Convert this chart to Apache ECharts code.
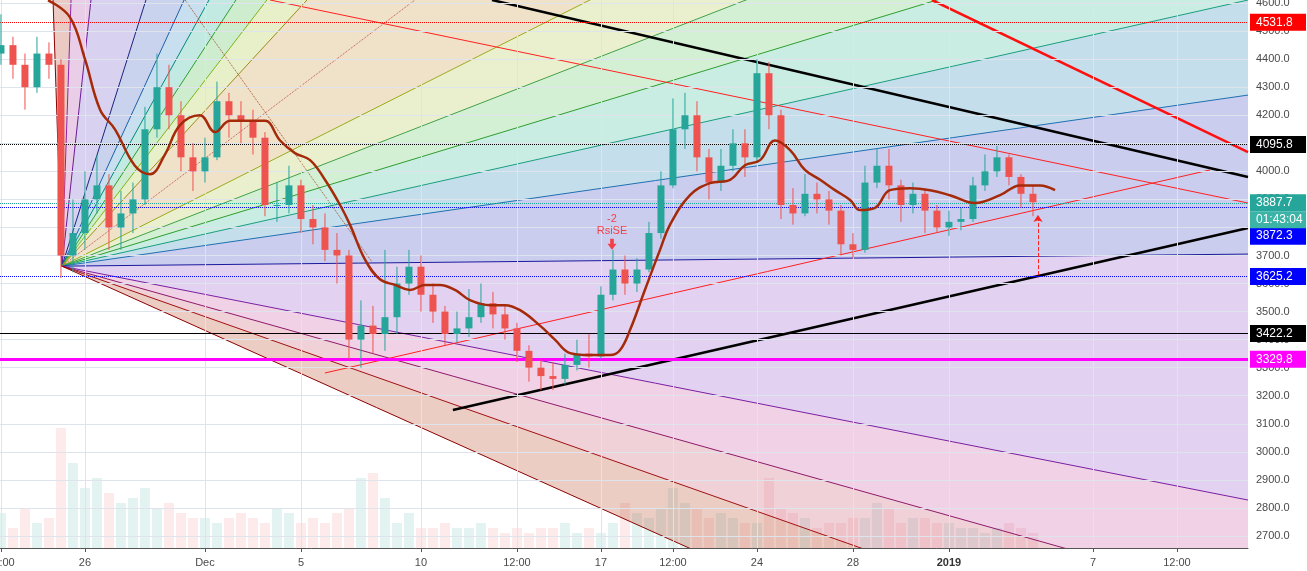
<!DOCTYPE html>
<html>
<head>
<meta charset="utf-8">
<script src="https://cdn.jsdelivr.net/npm/echarts@6/dist/echarts.min.js"></script>
<style>
  html, body { margin: 0; padding: 0; background: #fff; }
  #chart { width: 1307px; height: 571px; }
</style>
</head>
<body>
<div id="chart"></div>
<script>
// x axis in days from Nov 26 00:00, 12h candles
var candleStart = -3.5;
var closes = [4450,4380,4300,4420,4380,3700,3780,3900,3950,3800,3850,3900,4150,4300,4200,4050,4000,4050,4250,4200,
  4180,4120,3880,3880,3950,3830,3800,3720,3700,3400,3450,3420,3480,3600,3660,3560,3500,3420,3440,3480,
  3530,3490,3440,3360,3300,3270,3260,3310,3350,3340,3560,3650,3600,3650,3780,3950,4150,4200,4050,3960,
  4020,4100,4050,4350,4200,3880,3850,3920,3900,3860,3740,3720,3960,4020,3950,3880,3920,3860,3800,3820,
  3830,3950,4000,4050,3980,3920,3890];
var highs = [4560,4480,4420,4480,4460,4400,3900,4000,4060,3990,3930,3960,4230,4420,4380,4250,4100,4120,4320,4280,
  4250,4220,4140,3960,4020,3970,3880,3850,3780,3720,3540,3520,3720,3660,3720,3700,3600,3520,3500,3580,
  3600,3570,3520,3460,3380,3330,3320,3350,3400,3420,3590,3720,3700,3690,3820,4000,4260,4280,4250,4080,
  4080,4150,4150,4400,4390,4220,3940,3990,3960,3930,3880,3780,4020,4080,4080,3970,3960,3940,3880,3860,
  3870,3980,4060,4090,4060,3990,3950];
var lows = [4380,4330,4220,4280,4330,3620,3640,3720,3850,3720,3720,3780,3880,4120,4150,4000,3930,3960,4040,4120,
  4100,4060,3840,3820,3850,3780,3740,3680,3600,3330,3300,3350,3360,3420,3560,3500,3460,3380,3390,3410,
  3460,3440,3400,3320,3250,3220,3220,3240,3290,3300,3330,3540,3560,3570,3640,3760,3940,4080,4000,3900,
  3930,4000,3980,4030,4150,3830,3810,3840,3850,3810,3700,3690,3710,3940,3900,3820,3850,3780,3780,3770,
  3790,3820,3930,3980,3950,3870,3840];
var volumes = [35,20,40,25,30,120,85,60,70,55,45,50,60,40,45,35,30,30,25,30,
  35,30,25,40,35,25,30,25,35,40,70,75,50,25,35,20,20,25,20,20,
  25,20,15,20,15,20,20,25,15,20,15,25,45,35,30,40,60,45,40,30,
  35,30,25,25,70,40,35,30,20,25,25,30,30,45,40,25,30,30,25,25,
  20,20,15,20,25,20,15];

var maDays = [-1.54,-0.63,0,0.63,1.25,2.08,2.71,3.33,3.96,4.79,5.42,6.04,6.88,7.5,8.13,8.75,9.38,10,10.63,11.04,
  11.67,12.29,12.92,13.54,14.17,14.79,15.42,16.04,16.88,17.5,18.13,18.96,19.58,20.21,21.04,21.88,22.29,22.71,23.33,23.96,
  24.38,25.21,26.04,26.88,27.5,28.13,28.75,29.38,30,30.63,31.25,31.88,32.29,32.92,33.54,34.38,35.21,36.04,37.08,38.13,
  38.96,39.79,40.42];
var maValues = [4610,4550,4400,4220,4150,4020,3990,4060,4165,4200,4140,4180,4180,4180,4110,4065,4040,3970,3880,3810,
  3685,3615,3595,3577,3595,3595,3577,3541,3523,3523,3505,3450,3400,3352,3345,3345,3362,3434,3577,3720,
  3810,3915,3958,3970,4022,4040,4110,4076,4005,3970,3933,3898,3862,3870,3933,3940,3933,3915,3887,3915,
  3950,3950,3933];

var xTickDays = [-3.5,0,5,9,14,18,21.5,24.5,28,32,36,42,45.5];
var xTickLabels = ['12:00','26','Dec','5','10','12:00','17','12:00','24','28','2019','7','12:00'];
var priceTicks = [2700,2800,2900,3000,3100,3200,3300,3400,3500,3600,3700,3800,3900,4000,4100,4200,4300,4400,4500,4600];

// gann fan: origin and one point on each ray
var fanOrigin = [-0.96, 3662];
var fanPoints = [[-1.33,4611],[-0.58,4611],[0.25,4611],[2.54,4611],[4.13,4611],[5.17,4611],[6.29,4611],[7.58,4611],
  [9.25,4611],[21.04,4611],[27.54,4611],[35.5,4611],[48.46,4611],[48.46,4272],[48.46,3705],[48.46,2828],
  [40.79,2657],[32.33,2657],[25.17,2657]];
var fanLineColors = ['#8b0000','#8e24aa','#6a1b9a','#1a237e','#1e5fa8','#00897b','#2e9e2e','#7cb518','#a08a1a',
  '#9aab1a','#43a047','#2e9e2e','#1a9e7e','#1f6fb2','#1a1a9e','#7b1fa2','#8e1a6a','#a01010','#8b0000'];
var fanFillColors = ['rgba(190,80,60,0.3)','rgba(170,60,160,0.25)','rgba(120,90,200,0.28)','rgba(80,110,200,0.3)',
  'rgba(70,150,200,0.3)','rgba(40,180,150,0.28)','rgba(80,190,80,0.28)','rgba(170,200,60,0.28)','rgba(200,150,60,0.28)',
  'rgba(180,200,80,0.28)','rgba(100,200,100,0.28)','rgba(60,190,150,0.28)','rgba(60,150,190,0.3)','rgba(90,100,200,0.32)',
  'rgba(150,90,200,0.28)','rgba(200,90,160,0.28)','rgba(200,90,110,0.28)','rgba(190,90,60,0.3)'];

// trend lines [[day, price], [day, price]]
var blackTop = [[16.96,4611],[48.46,3980]];
var blackBottom = [[15.33,3149],[48.46,3798]];
var redThick = [[35.29,4611],[48.46,4069]];
var redDown = [[7.71,4611],[48.46,3887]];
var redUp = [[10,3281],[46.88,4005]];
var dottedUp = [[-0.96,3662],[13.75,4611]];
var dottedDown = [[4.17,4611],[11.96,3677]];
var arrowFrom = [39.71,3630];
var arrowTo = [39.71,3844];
var signalPoint = [21.96,3740];

var priceLines = [
  {value: 4531.8, color: '#ff0000', type: 'dotted', width: 1, label: '4531.8', dy: 0},
  {value: 4095.8, color: '#000000', type: 'dotted', width: 1, label: '4095.8', dy: 0},
  {value: 3887.7, color: '#26a69a', type: 'dotted', width: 1, label: '3887.7', dy: 0},
  {value: 3872.3, color: '#0000ff', type: 'dotted', width: 1, label: '3872.3', dy: 29},
  {value: 3625.2, color: '#0000ff', type: 'dotted', width: 1, label: '3625.2', dy: 0},
  {value: 3422.2, color: '#000000', type: 'solid', width: 1, label: '3422.2', dy: 0},
  {value: 3329.8, color: '#ff00ff', type: 'solid', width: 3, label: '3329.8', dy: 0}
];

var UP = '#26a69a', DOWN = '#ef5350';

var candles = [], vols = [];
for (var i = 0; i < closes.length; i++) {
  var d = candleStart + i * 0.5;
  var o = i === 0 ? 4420 : closes[i - 1];
  candles.push([d, o, closes[i], lows[i], highs[i]]);
  vols.push({value: [d, volumes[i]], itemStyle: {color: closes[i] >= o ? 'rgba(38,166,154,0.13)' : 'rgba(239,83,80,0.12)'}});
}
var maData = maDays.map(function (d, i) { return [d, maValues[i]]; });

var chart = echarts.init(document.getElementById('chart'));

function fanRay(api, p) {
  var o = api.coord(fanOrigin), q = api.coord(p);
  return [o[0] + (q[0] - o[0]) * 20, o[1] + (q[1] - o[1]) * 20];
}

function trend(name, pts, color, width, type) {
  return {
    name: name, type: 'line', data: pts, symbol: 'none', z: 4, silent: true,
    lineStyle: {color: color, width: width, type: type || 'solid'}
  };
}

var gridMarks = xTickDays.map(function (d) { return {xAxis: d}; })
  .concat(priceTicks.map(function (p) { return {yAxis: p}; }));

var option = {
  animation: false,
  backgroundColor: '#ffffff',
  grid: [
    {left: 0, right: 59, top: 0, bottom: 23, containLabel: false, outerBoundsMode: 'none'},
    {left: 0, right: 59, top: 400, bottom: 23, containLabel: false, outerBoundsMode: 'none'}
  ],
  xAxis: [{
    type: 'value', min: -3.54, max: 48.46, gridIndex: 0,
    splitLine: {show: false},
    axisLine: {lineStyle: {color: '#555'}},
    axisTick: {customValues: xTickDays, lineStyle: {color: '#555'}, length: 4},
    axisLabel: {
      customValues: xTickDays, color: '#4a4a4a', fontSize: 11, margin: 9,
      fontFamily: 'Arial, Liberation Sans, sans-serif',
      formatter: function (v) {
        var k = xTickDays.indexOf(v);
        return k >= 0 ? (xTickLabels[k] === '2019' ? '{b|2019}' : xTickLabels[k]) : '';
      },
      rich: {b: {fontWeight: 'bold', fontSize: 11, color: '#333'}}
    }
  }, {
    type: 'value', min: -3.54, max: 48.46, gridIndex: 1, show: false
  }],
  yAxis: [{
    type: 'value', min: 2657, max: 4611, position: 'right', gridIndex: 0,
    splitLine: {show: false},
    axisLine: {show: true, lineStyle: {color: '#555'}},
    axisTick: {show: true, customValues: priceTicks, length: 4, lineStyle: {color: '#555'}},
    axisLabel: {
      customValues: priceTicks, color: '#4a4a4a', fontSize: 11, margin: 8,
      fontFamily: 'Arial, Liberation Sans, sans-serif',
      formatter: function (v) { return v.toFixed(1); }
    }
  }, {
    type: 'value', min: 0, max: 148, gridIndex: 1, show: false
  }],
  series: [
    {
      name: 'grid', type: 'line', data: [], silent: true, z: 0,
      markLine: {
        silent: true, symbol: 'none', label: {show: false},
        lineStyle: {color: '#dfe4ec', type: 'solid', width: 1},
        data: gridMarks
      }
    },
    {
      name: 'volume', type: 'bar', xAxisIndex: 1, yAxisIndex: 1, data: vols,
      barWidth: 10, z: 1, silent: true
    },
    {
      name: 'fanFill', type: 'custom', clip: true, z: 2, silent: true,
      data: fanFillColors.map(function (c, i) { return [fanOrigin[0], fanOrigin[1], i]; }),
      renderItem: function (params, api) {
        var i = api.value(2);
        var o = api.coord(fanOrigin);
        return {
          type: 'polygon',
          shape: {points: [o, fanRay(api, fanPoints[i]), fanRay(api, fanPoints[i + 1])]},
          style: {fill: fanFillColors[i], stroke: null}
        };
      }
    },
    {
      name: 'fanLines', type: 'custom', clip: true, z: 3, silent: true,
      data: fanLineColors.map(function (c, i) { return [fanOrigin[0], fanOrigin[1], i]; }),
      renderItem: function (params, api) {
        var i = api.value(2);
        var o = api.coord(fanOrigin), e = fanRay(api, fanPoints[i]);
        return {
          type: 'line',
          shape: {x1: o[0], y1: o[1], x2: e[0], y2: e[1]},
          style: {stroke: fanLineColors[i], lineWidth: 1}
        };
      }
    },
    {
      name: 'levels', type: 'line', data: [], silent: true, z: 4,
      markLine: {
        silent: true, symbol: 'none', label: {show: false},
        data: priceLines.map(function (p) {
          return {yAxis: p.value, lineStyle: {color: p.color, type: p.type, width: p.width}};
        })
      }
    },
    trend('dottedUp', dottedUp, '#c0504d', 1, 'dotted'),
    trend('dottedDown', dottedDown, '#a0522d', 1, 'dotted'),
    trend('redDown', redDown, '#ff2020', 1),
    trend('redUp', redUp, '#ff2020', 1),
    trend('redThick', redThick, '#ff1010', 2.5),
    trend('blackTop', blackTop, '#000000', 2.5),
    trend('blackBottom', blackBottom, '#000000', 2.5),
    {
      name: 'candles', type: 'custom', clip: true, z: 5,
      data: candles,
      encode: {x: 0, y: [1, 2, 3, 4]},
      renderItem: function (params, api) {
        var x = api.value(0), o = api.value(1), c = api.value(2), l = api.value(3), h = api.value(4);
        var po = api.coord([x, o]), pc = api.coord([x, c]), pl = api.coord([x, l]), ph = api.coord([x, h]);
        var color = c >= o ? UP : DOWN, w = 7;
        return {
          type: 'group',
          children: [
            {type: 'line', shape: {x1: po[0], y1: ph[1], x2: po[0], y2: pl[1]}, style: {stroke: color, lineWidth: 1}},
            {type: 'rect', shape: {x: po[0] - w / 2, y: Math.min(po[1], pc[1]), width: w,
              height: Math.max(1, Math.abs(po[1] - pc[1]))}, style: {fill: color}}
          ]
        };
      }
    },
    {
      name: 'MA', type: 'line', data: maData, smooth: 0.4, symbol: 'none', z: 6,
      lineStyle: {color: '#a52a0a', width: 2.5}
    },
    {
      name: 'arrow', type: 'line', data: [], z: 6, silent: true,
      markLine: {
        silent: true, symbol: ['none', 'arrow'], symbolSize: 7, label: {show: false},
        lineStyle: {color: '#ff2020', type: 'dashed', width: 1},
        data: [[{coord: arrowFrom}, {coord: arrowTo}]]
      }
    },
    {
      name: 'signal', type: 'scatter', data: [signalPoint], z: 7, silent: true,
      symbol: 'path://M3,0 L7,0 L7,5 L10,5 L5,11 L0,5 L3,5 Z', symbolSize: [9, 11],
      itemStyle: {color: '#ff1a1a'},
      label: {
        show: true, position: 'top', distance: 2, formatter: '-2\nRsiSE',
        color: '#ff1a1a', fontSize: 11, lineHeight: 12, fontFamily: 'Arial, Liberation Sans, sans-serif'
      }
    }
  ]
};

chart.setOption(option);

// price boxes on the right scale
var boxes = priceLines.map(function (p) {
  return {value: p.value, text: p.label, bg: p.color, dy: p.dy};
});
boxes.push({value: 3887.7, text: '01:43:04', bg: '#3bb3a6', dy: 17});
var graphics = boxes.map(function (b) {
  var y = chart.convertToPixel({yAxisIndex: 0}, b.value) + b.dy;
  return {
    type: 'text', left: 1250, top: y - 8.5, z: 100,
    style: {
      text: b.text, fill: '#ffffff', backgroundColor: b.bg, fontSize: 12,
      fontFamily: 'Arial, Liberation Sans, sans-serif',
      padding: [2, 4, 2, 6], width: 46, height: 13, lineHeight: 13
    }
  };
});
chart.setOption({graphic: graphics});
</script>
</body>
</html>
